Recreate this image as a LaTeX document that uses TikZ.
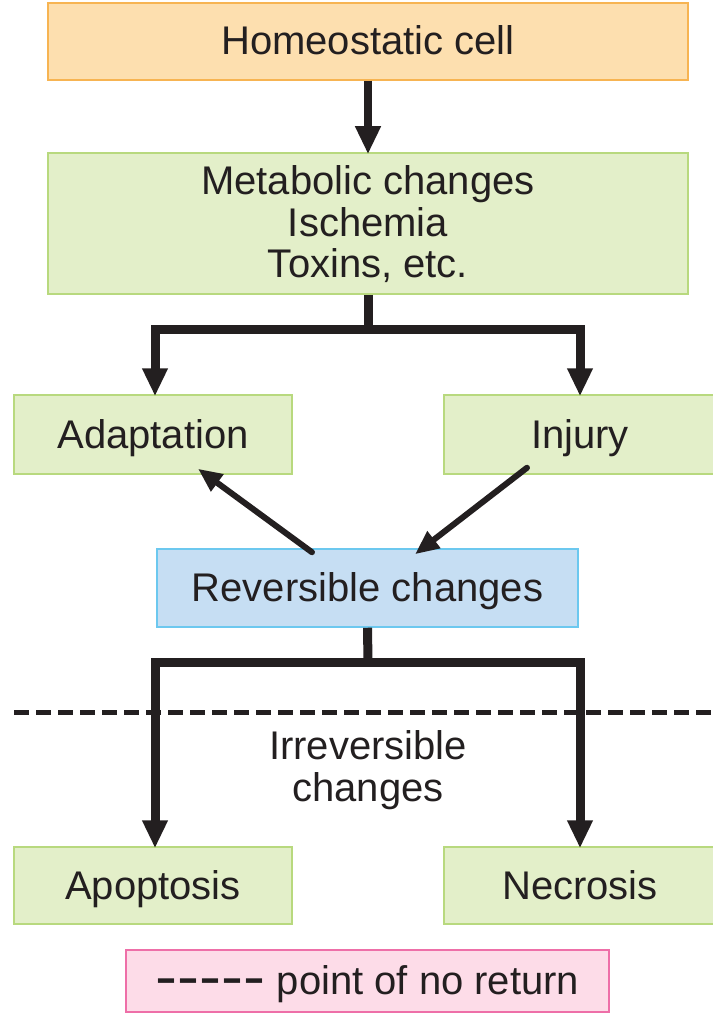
\documentclass[tikz,border=0pt]{standalone}
\usepackage{fontspec}
\setmainfont{Liberation Sans}
\usetikzlibrary{arrows.meta}
\definecolor{orfill}{HTML}{FDDFAF}
\definecolor{ordraw}{HTML}{F7B452}
\definecolor{grfill}{HTML}{E3EFC9}
\definecolor{grdraw}{HTML}{B8D97E}
\definecolor{blfill}{HTML}{C6DEF3}
\definecolor{bldraw}{HTML}{6CC8EF}
\definecolor{pkfill}{HTML}{FDDCE8}
\definecolor{pkdraw}{HTML}{EE6FA8}
\definecolor{ink}{HTML}{231F20}
\tikzset{
  box/.style={rectangle, inner sep=0pt, line width=1.5pt, align=center,
    font=\fontsize{40}{41.5}\selectfont, text=ink},
  oneline/.style={text height=29pt, text depth=2pt},
  orbox/.style={box, oneline, fill=orfill, draw=ordraw},
  grbox/.style={box, oneline, fill=grfill, draw=grdraw},
  grbigbox/.style={box, fill=grfill, draw=grdraw},
  blbox/.style={box, oneline, fill=blfill, draw=bldraw},
  pkbox/.style={box, oneline, fill=pkfill, draw=pkdraw},
  bar/.style={draw=ink, line width=9pt, line join=miter},
  barrow/.style={bar, -{Triangle[width=24pt,length=28pt]}},
  darrow/.style={draw=ink, line width=6pt, line cap=round, -{Triangle[width=20pt,length=24pt]}},
}
\begin{document}
\begin{tikzpicture}[x=1pt,y=-1pt]
\useasboundingbox (0,0) rectangle (712,1014);
\node[orbox, minimum width=640pt, minimum height=77pt] (homeo) at (368,41.5) {Homeostatic cell};
\node[grbigbox, minimum width=640pt, minimum height=141pt] (metab) at (368,223.5) {\rule{0pt}{31pt}Metabolic changes\\Ischemia\\Toxins, etc.};
\node[grbox, minimum width=278pt, minimum height=79pt] (adapt) at (153,434.5) {Adaptation};
\node[grbox, minimum width=272pt, minimum height=79pt] (injury) at (580,434.5) {Injury};
\node[blbox, minimum width=421pt, minimum height=78pt] (rev) at (367.5,588) {Reversible changes};
\node[grbox, minimum width=278pt, minimum height=77pt] (apop) at (153,885.5) {Apoptosis};
\node[grbox, minimum width=272pt, minimum height=77pt] (necro) at (580,885.5) {Necrosis};
\node[pkbox, minimum width=483pt, minimum height=62pt] (pnr) at (367.5,981) {\raisebox{-2pt}{\scalebox{1.65}[1.45]{-{}-{}-{}-{}-}} point of no return};
\node[box, draw=none, fill=none] (irrev) at (368,770) {Irreversible\\changes};

% top arrow
\draw[barrow, line width=8pt] (homeo.south) -- ([yshift=-2pt]metab.north);

% first branch
\coordinate (b1) at (368,329);
\draw[bar] (metab.south) -- (b1);
\draw[barrow] (b1) -| ([yshift=-2pt]adapt.north -| 155,0);
\draw[barrow] (b1) -| ([yshift=-2pt]injury.north);

% diagonal arrows
\draw[darrow] ([xshift=-55.5pt,yshift=-4pt]rev.north) -- ([xshift=45pt,yshift=6pt]adapt.south);
\draw[darrow] ([xshift=-53pt,yshift=7pt]injury.south) -- ([xshift=47.5pt,yshift=-6pt]rev.north);

% second branch
\coordinate (b2) at (368,662);
\draw[bar] (rev.south) -- (b2);
\draw[barrow] (b2) -| ([yshift=-2pt]apop.north -| 155,0);
\draw[barrow] (b2) -| ([yshift=-2pt]necro.north);

% point of no return line
\coordinate (dl) at (14,712.5);
\coordinate (dr) at (712,712.5);
\draw[draw=ink, line width=4.5pt, dash pattern=on 15pt off 7pt] (dl) -- (dr);
\end{tikzpicture}
\end{document}
